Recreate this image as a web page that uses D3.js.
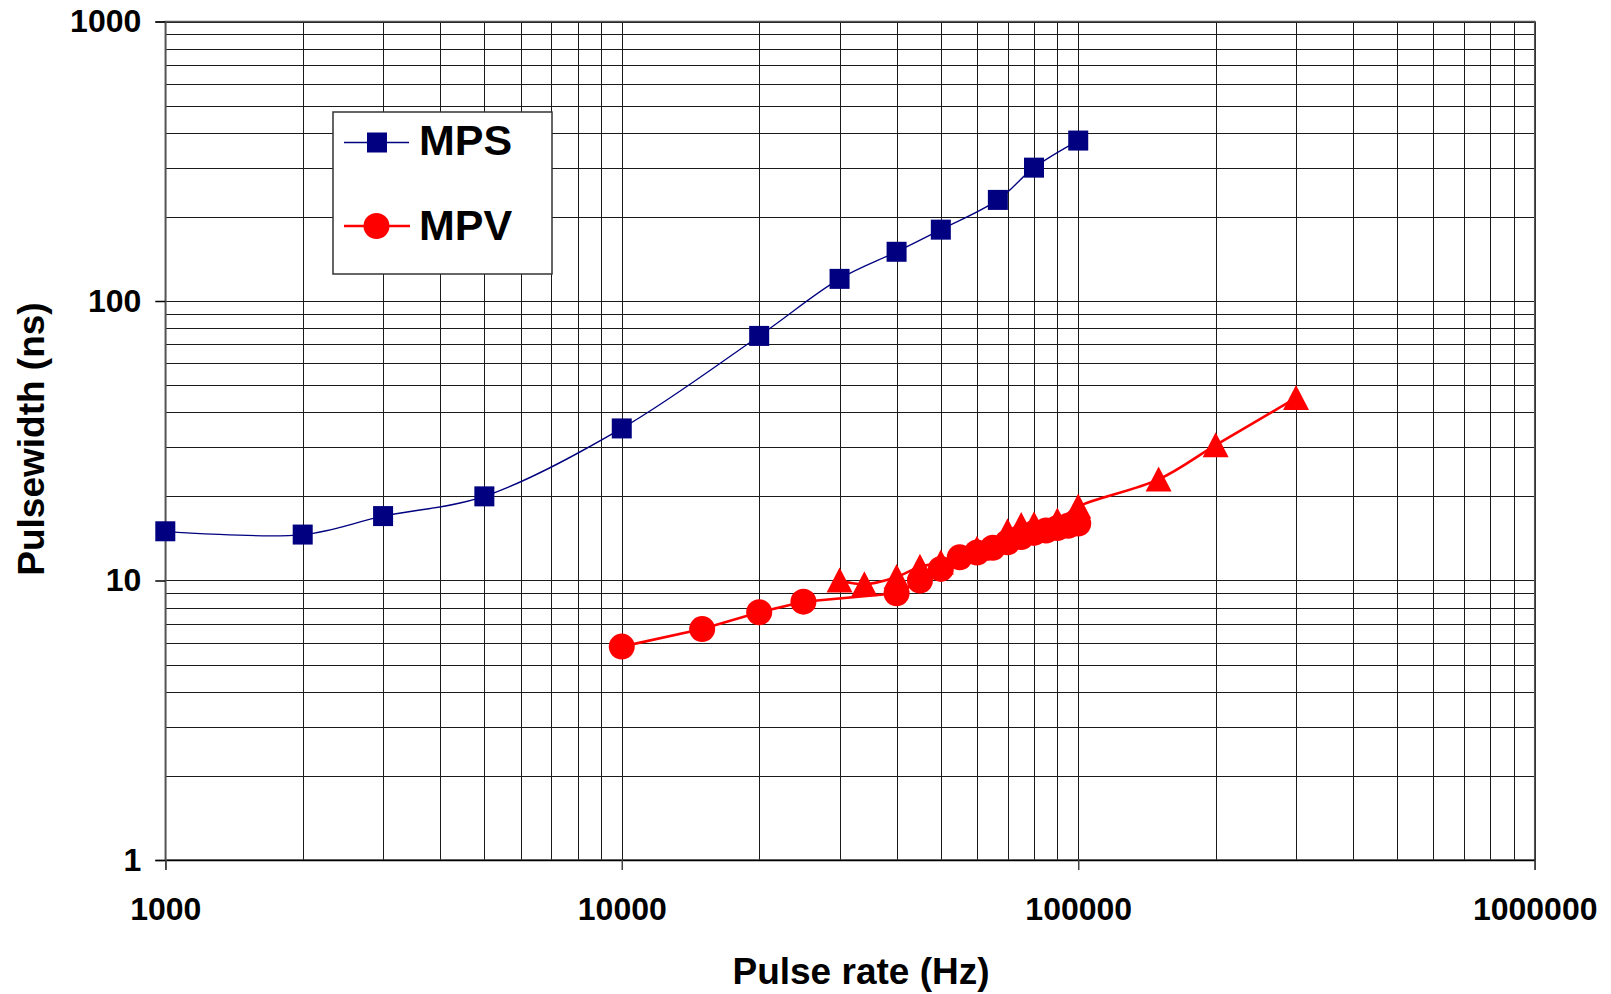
<!DOCTYPE html>
<html>
<head>
<meta charset="utf-8">
<script src="https://cdn.jsdelivr.net/npm/d3@7"></script>
<style>
  html, body { margin: 0; padding: 0; background: #fff; }
  svg { display: block; }
  text { font-family: Arial, "Liberation Sans", sans-serif; font-weight: bold; fill: #000; }
</style>
</head>
<body>
<svg id="chart" width="1611" height="994"></svg>
<script>
// ---- data ----
const xTickLabels = ["1000", "10000", "100000", "1000000"];
const xTickValues = [1000, 10000, 100000, 1000000];
const yTickLabels = ["1", "10", "100", "1000"];
const yTickValues = [1, 10, 100, 1000];

const mpsRate  = [1000, 2000, 3000, 5000, 10000, 20000, 30000, 40000, 50000, 66667, 80000, 100000];
const mpsWidth = [15, 14.6, 17, 20, 35, 75, 120, 150, 180, 230, 300, 375];

const mpvRate  = [10000, 15000, 20000, 25000, 40000, 45000, 50000, 55000, 60000, 65000, 70000, 75000, 80000, 85000, 90000, 95000, 100000];
const mpvWidth = [5.8, 6.7, 7.7, 8.4, 9, 10, 11, 12.1, 12.6, 13.1, 13.7, 14.3, 14.8, 15.1, 15.4, 15.7, 16];

const mpvTriRate  = [30000, 34000, 40000, 45000, 50000, 60000, 70000, 75000, 80000, 90000, 100000, 150000, 200000, 300000];
const mpvTriWidth = [10, 9.7, 10.3, 11.2, 11.6, 13, 15, 15.8, 15.9, 16.4, 18.4, 23, 30.5, 45];

const seriesNames = ["MPS", "MPV"];

// ---- layout ----
const svg = d3.select("#chart");
const L = 165.3, R = 1534.7, T = 21.5, B = 860;
const x = d3.scaleLog().domain([1000, 1e6]).range([L, R]);
const y = d3.scaleLog().domain([1, 1000]).range([B, T]);

// grid values
const xGrid = [], yGrid = [];
for (let p = 1000; p < 1e6; p *= 10) for (let k = 1; k <= 9; k++) xGrid.push(p * k);
xGrid.push(1e6);
for (let p = 1; p < 1000; p *= 10) for (let k = 1; k <= 9; k++) yGrid.push(p * k);
yGrid.push(1000);

const grid = svg.append("g");
grid.selectAll("line.v").data(xGrid).enter().append("line")
  .attr("x1", d => Math.round(x(d)) + 0.5).attr("x2", d => Math.round(x(d)) + 0.5)
  .attr("y1", T).attr("y2", B)
  .attr("stroke", "#1a1a1a").attr("stroke-width", 1);
grid.selectAll("line.h").data(yGrid).enter().append("line")
  .attr("y1", d => Math.round(y(d)) + 0.5).attr("y2", d => Math.round(y(d)) + 0.5)
  .attr("x1", L).attr("x2", R)
  .attr("stroke", "#1a1a1a").attr("stroke-width", 1);

// plot border
svg.append("rect").attr("x", L).attr("y", T).attr("width", R - L).attr("height", B - T)
  .attr("fill", "none").attr("stroke", "#555").attr("stroke-width", 1.5);

// axes
const xAxis = d3.axisBottom(x).tickValues(xTickValues).tickFormat((d, i) => xTickLabels[i]).tickSize(10).tickPadding(27);
const gx = svg.append("g").attr("transform", `translate(0,${B})`).call(xAxis);
gx.select(".domain").attr("stroke", "#000").attr("stroke-width", 1.5);
gx.selectAll(".tick line").attr("stroke", "#444").attr("stroke-width", 1.5);
gx.selectAll(".tick text").style("font-size", "32px").attr("fill", "#000")
  .attr("dy", "0.71em");

const yAxis = d3.axisLeft(y).tickValues(yTickValues).tickFormat((d, i) => yTickLabels[i]).tickSize(10).tickPadding(14);
const gy = svg.append("g").attr("transform", `translate(${L},0)`).call(yAxis);
gy.select(".domain").attr("stroke", "#555").attr("stroke-width", 1.5);
gy.selectAll(".tick line").attr("stroke", "#000").attr("stroke-width", 1.5);
gy.selectAll(".tick text").style("font-size", "32px").attr("fill", "#000");

// axis titles
svg.append("text").attr("x", 861).attr("y", 984).attr("text-anchor", "middle")
  .style("font-size", "37px").text("Pulse rate (Hz)");
svg.append("text").attr("transform", "translate(44,439) rotate(-90)").attr("text-anchor", "middle")
  .style("font-size", "37px").text("Pulsewidth (ns)");

// series
const mps = mpsRate.map((r, i) => [r, mpsWidth[i]]);
const mpv = mpvRate.map((r, i) => [r, mpvWidth[i]]);
const mpvTri = mpvTriRate.map((r, i) => [r, mpvTriWidth[i]]);

const smooth = d3.line().x(d => x(d[0])).y(d => y(d[1])).curve(d3.curveCatmullRom.alpha(0.5));
const straight = d3.line().x(d => x(d[0])).y(d => y(d[1]));

const navy = "#000080", red = "#ff0000";

svg.append("path").attr("d", smooth(mps)).attr("fill", "none").attr("stroke", navy).attr("stroke-width", 1.3);
svg.selectAll("rect.sq").data(mps).enter().append("rect")
  .attr("x", d => x(d[0]) - 10).attr("y", d => y(d[1]) - 10)
  .attr("width", 20).attr("height", 20).attr("fill", navy);

svg.append("path").attr("d", smooth(mpvTri)).attr("fill", "none").attr("stroke", red).attr("stroke-width", 2.6);
svg.append("path").attr("d", straight(mpv)).attr("fill", "none").attr("stroke", red).attr("stroke-width", 2.6);

const tri = "M0,-13L13,12L-13,12Z";
svg.selectAll("path.tri").data(mpvTri).enter().append("path")
  .attr("d", tri).attr("transform", d => `translate(${x(d[0])},${y(d[1])})`).attr("fill", red);
svg.selectAll("circle.c").data(mpv).enter().append("circle")
  .attr("cx", d => x(d[0])).attr("cy", d => y(d[1])).attr("r", 13).attr("fill", red);

// legend
const lg = svg.append("g");
lg.append("rect").attr("x", 333).attr("y", 112).attr("width", 219).attr("height", 162)
  .attr("fill", "#fff").attr("stroke", "#333").attr("stroke-width", 1.5);
lg.append("line").attr("x1", 344).attr("x2", 409).attr("y1", 142.5).attr("y2", 142.5).attr("stroke", navy).attr("stroke-width", 1.3);
lg.append("rect").attr("x", 367).attr("y", 132.5).attr("width", 20).attr("height", 20).attr("fill", navy);
lg.append("text").attr("x", 419).attr("y", 155).style("font-size", "43px").text(seriesNames[0]);
lg.append("line").attr("x1", 344).attr("x2", 410).attr("y1", 226).attr("y2", 226).attr("stroke", red).attr("stroke-width", 2.6);
lg.append("circle").attr("cx", 376.5).attr("cy", 226).attr("r", 13).attr("fill", red);
lg.append("text").attr("x", 419).attr("y", 240).style("font-size", "43px").text(seriesNames[1]);
</script>
</body>
</html>
